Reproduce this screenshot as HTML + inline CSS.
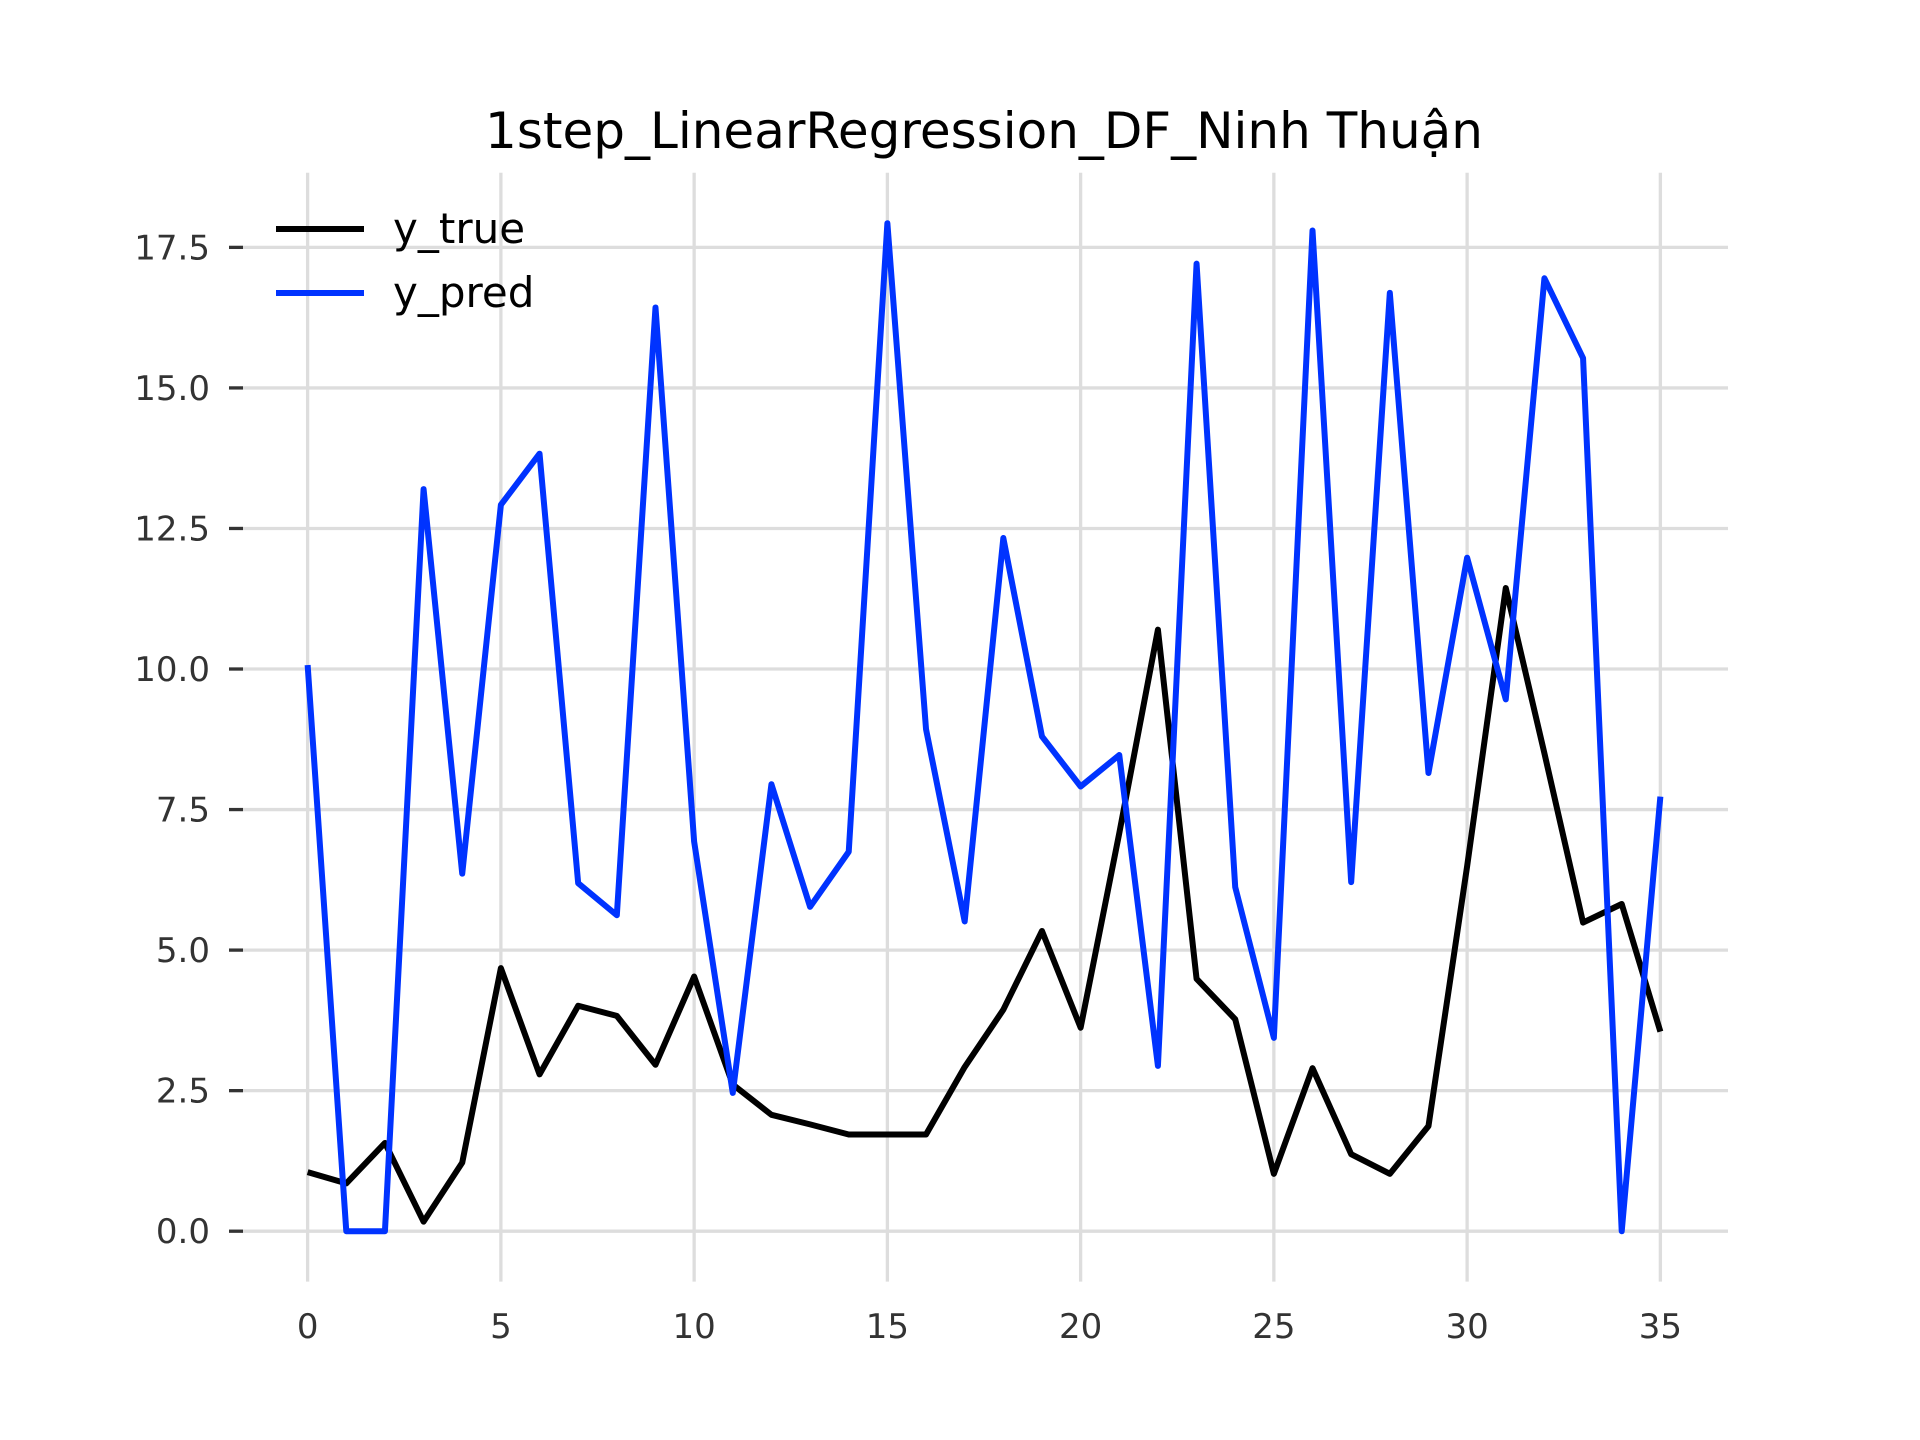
<!DOCTYPE html>
<html><head><meta charset="utf-8"><style>
html,body{margin:0;padding:0;background:#fff}
svg{display:block}
text{font-family:"DejaVu Sans","Liberation Sans",sans-serif}
</style></head><body>
<svg id="chart" width="1920" height="1440" viewBox="0 0 1920 1440">
<rect width="1920" height="1440" fill="#fff"/>
<text x="984" y="148" font-size="50" text-anchor="middle" fill="#000">1step_LinearRegression_DF_Ninh Thuận</text>
<g id="grid"></g>
<g id="yticks"></g>
<g id="xticks"></g>
<g id="series"></g>
<g>
<line x1="276" y1="229" x2="364" y2="229" stroke="#000" stroke-width="6"/>
<text x="393" y="243" font-size="42" fill="#000">y_true</text>
<line x1="276" y1="293" x2="364" y2="293" stroke="#0033ff" stroke-width="6"/>
<text x="393" y="307" font-size="42" fill="#000">y_pred</text>
</g>
</svg>
<script>
const xTicks=[0,5,10,15,20,25,30,35];
const yTicks=[0,2.5,5,7.5,10,12.5,15,17.5];
const yTickLabels=["0.0","2.5","5.0","7.5","10.0","12.5","15.0","17.5"];
const yTrue=[1.05,0.85,1.57,0.17,1.22,4.68,2.79,4.01,3.83,2.96,4.53,2.61,2.07,1.9,1.72,1.72,1.72,2.92,3.94,5.34,3.62,7.08,10.7,4.49,3.77,1.02,2.9,1.37,1.02,1.87,6.49,11.44,8.5,5.49,5.82,3.55];
const yPred=[10.07,0,0,13.2,6.36,12.92,13.83,6.19,5.62,16.43,6.93,2.46,7.95,5.77,6.75,17.93,8.93,5.51,12.33,8.8,7.91,8.47,2.94,17.21,6.12,3.44,17.8,6.21,16.69,8.15,11.98,9.46,16.95,15.53,0,7.73];
const NS="http://www.w3.org/2000/svg";
const L=240,R=1728,T=172.8,B=1281.6;
const xmin=-1.75,xmax=36.75;
const ymin=-0.8965,ymax=18.8265;
function xs(v){return L+(v-xmin)/(xmax-xmin)*(R-L);}
function ys(v){return B-(v-ymin)/(ymax-ymin)*(B-T);}
function mk(tag,attrs,parent){const e=document.createElementNS(NS,tag);for(const k in attrs)e.setAttribute(k,attrs[k]);parent.appendChild(e);return e;}
const grid=document.getElementById('grid'),yg=document.getElementById('yticks'),xg=document.getElementById('xticks'),sg=document.getElementById('series');
xTicks.forEach(t=>{
 const g=mk('line',{x1:xs(t),x2:xs(t),y1:T,y2:B,stroke:'#dddddd','stroke-width':3.3},grid);
 
 
 const tx=mk('text',{x:xs(t),y:1338,'font-size':34,'text-anchor':'middle',fill:'#333'},xg);
 tx.textContent=t;
 
 
});
yTicks.forEach((t,i)=>{
 const g=mk('line',{x1:L,x2:R,y1:ys(t),y2:ys(t),stroke:'#dddddd','stroke-width':3.3},grid);
 
 
 const tk=mk('line',{x1:229,x2:243,y1:ys(t),y2:ys(t),stroke:'#333','stroke-width':3.3},yg);
 
 
 const tx=mk('text',{x:210,y:ys(t)+12,'font-size':34,'text-anchor':'end',fill:'#333'},yg);
 tx.textContent=yTickLabels[i];
 
 
});
function line(data,color,name){
 const p=mk('polyline',{points:data.map((v,i)=>xs(i)+','+ys(v)).join(' '),fill:'none',stroke:color,'stroke-width':6,'stroke-linejoin':'round','stroke-linecap':'butt'},sg);
 
 
}
line(yTrue,'#000000','y-true-line');
line(yPred,'#0033ff','y-pred-line');
</script>
</body></html>
